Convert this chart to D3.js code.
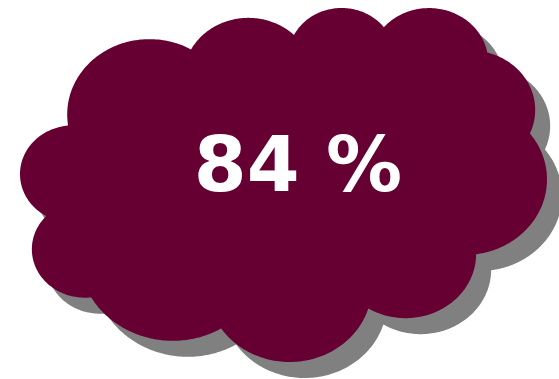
<!DOCTYPE html>
<html>
<head>
<meta charset="utf-8">
<script src="https://cdn.jsdelivr.net/npm/d3@7"></script>
<style>
  html, body { margin: 0; padding: 0; background: #ffffff; }
  svg { display: block; }
</style>
</head>
<body>
<div id="chart"></div>
<script>
// ---- data ----
const categories = ["Share"];
const values = [84];
const valueLabels = ["84 %"];

// cloud outline (DrawingML "cloud" preset, path units 43200x43200)
const cloudStart = [3900, 14370];
const arcWR  = [6753, 5333, 4365, 4857, 5333, 6775, 5785, 6752, 7720, 4360, 4345];
const arcHR  = [9190, 7267, 5945, 6595, 7273, 9220, 7867, 9215, 10543, 5918, 5945];
const arcSt  = [-11429249, -8646143, -8748475, -7859164, -4722533, -2776035, 37501, 1347096, 3974558, -16496525, -14809710];
const arcSw  = [7426832, 5396714, 5983381, 7034504, 6541615, 7816140, 6842000, 6910353, 4542661, 8804134, 9151131];

const W = 559, H = 379;
const box = { x0: 20, x1: 547, y0: 8, y1: 362 };
const shadowOffset = [15, 16];

// build outline points in path space
const pts = [];
let cur = cloudStart.slice();
pts.push(cur.slice());
for (let i = 0; i < arcWR.length; i++) {
  const rx = arcWR[i], ry = arcHR[i];
  const st = arcSt[i] / 60000 * Math.PI / 180;
  const en = (arcSt[i] + arcSw[i]) / 60000 * Math.PI / 180;
  const t0 = Math.atan2(rx * Math.sin(st), ry * Math.cos(st));
  let t1 = Math.atan2(rx * Math.sin(en), ry * Math.cos(en));
  // keep sweep direction/size consistent with swAng
  const sw = arcSw[i] / 60000 * Math.PI / 180;
  while (sw > 0 && t1 <= t0) t1 += 2 * Math.PI;
  while (sw > 0 && t1 - t0 > 2 * Math.PI) t1 -= 2 * Math.PI;
  const cx = cur[0] - rx * Math.cos(t0);
  const cy = cur[1] - ry * Math.sin(t0);
  const n = 80;
  for (let k = 1; k <= n; k++) {
    const t = t0 + (t1 - t0) * k / n;
    pts.push([cx + rx * Math.cos(t), cy + ry * Math.sin(t)]);
  }
  cur = pts[pts.length - 1].slice();
}

const xExt = d3.extent(pts, d => d[0]);
const yExt = d3.extent(pts, d => d[1]);
const x = d3.scaleLinear().domain(xExt).range([box.x0, box.x1]);
const y = d3.scaleLinear().domain(yExt).range([box.y0, box.y1]);

const line = d3.line().x(d => x(d[0])).y(d => y(d[1])).curve(d3.curveLinearClosed);

const svg = d3.select("#chart").append("svg")
  .attr("width", W).attr("height", H)
  .attr("viewBox", `0 0 ${W} ${H}`);

svg.append("rect").attr("width", W).attr("height", H).attr("fill", "#ffffff");

const g = svg.append("g");

g.selectAll("path.shadow").data(categories).join("path")
  .attr("class", "shadow")
  .attr("d", line(pts))
  .attr("transform", `translate(${shadowOffset[0]},${shadowOffset[1]})`)
  .attr("fill", "#808080");

g.selectAll("path.cloud").data(categories).join("path")
  .attr("class", "cloud")
  .attr("d", line(pts))
  .attr("fill", "#660033");

g.selectAll("text.value").data(values).join("text")
  .attr("class", "value")
  .attr("x", 298)
  .attr("y", 191)
  .attr("text-anchor", "middle")
  .attr("fill", "#ffffff")
  .attr("font-family", "'DejaVu Sans', Verdana, sans-serif")
  .attr("font-weight", "bold")
  .attr("font-size", 76)
  .text((d, i) => valueLabels[i]);
</script>
</body>
</html>
